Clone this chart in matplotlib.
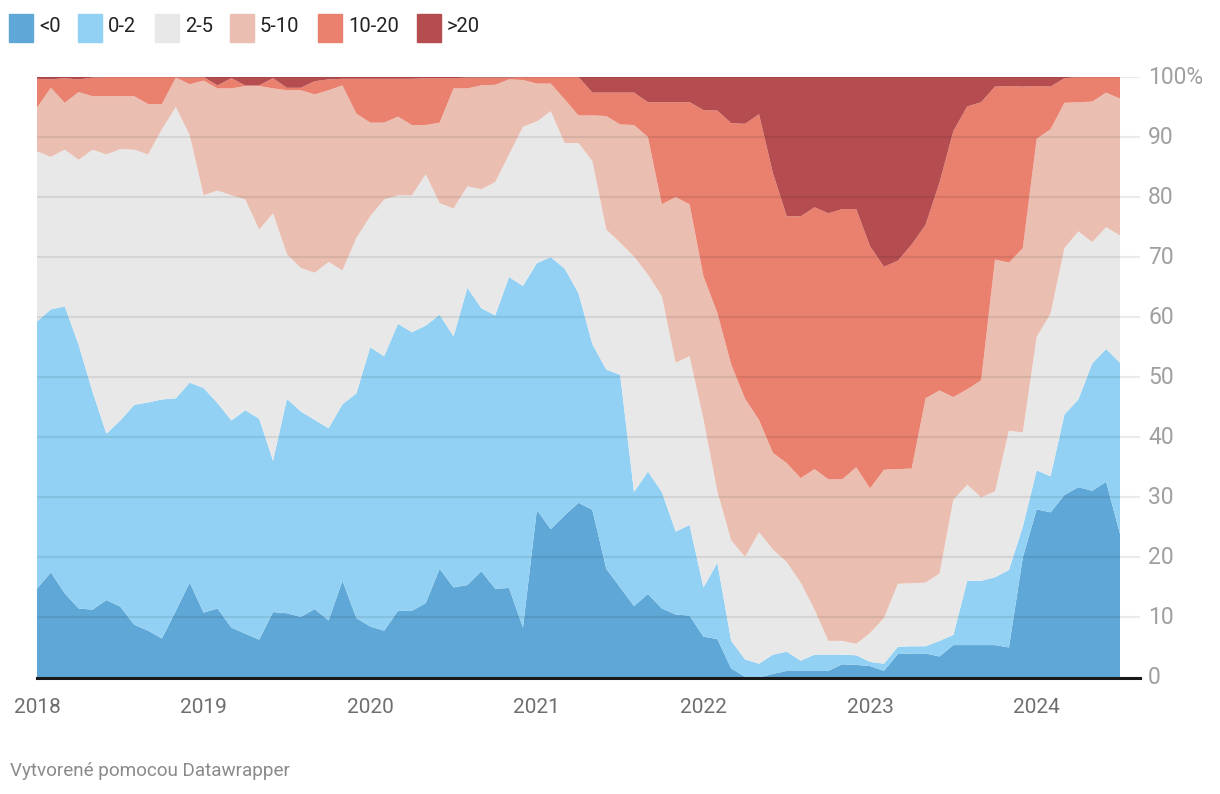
import matplotlib
matplotlib.use("Agg")
import matplotlib.pyplot as plt
from matplotlib.patches import Rectangle
import numpy as np

plt.rcParams['font.family'] = ['Roboto', 'DejaVu Sans']

labels = ["<0", "0-2", "2-5", "5-10", "10-20", ">20"]
colors = ["#5fa7d6", "#92d1f3", "#e8e8e8", "#eabfb2", "#ea806e", "#b54d50"]

# monthly shares (%), Jan 2018 .. Jul 2024
s_neg = [14.8, 17.5, 14.0, 11.5, 11.3, 12.9, 11.8, 8.8, 7.8, 6.5, 11.1, 15.8,
         10.8, 11.5, 8.3, 7.3, 6.3, 10.9, 10.7, 10.1, 11.4, 9.5, 16.1, 9.9,
         8.5, 7.8, 11.1, 11.1, 12.4, 18.1, 15.0, 15.4, 17.7, 14.8, 14.9, 8.3,
         27.9, 24.7, 27.0, 29.1, 27.9, 18.1, 15.0, 11.9, 13.9, 11.5, 10.5, 10.3,
         6.8, 6.4, 1.5, 0.1, 0.0, 0.6, 1.1, 1.1, 1.1, 1.1, 2.2, 2.1,
         1.9, 1.1, 3.9, 4.0, 4.0, 3.5, 5.4, 5.4, 5.4, 5.4, 5.0, 20.0,
         28.0, 27.5, 30.4, 31.7, 31.1, 32.6, 23.9]
s_0_2 = [44.5, 43.8, 47.8, 43.9, 36.3, 27.7, 31.0, 36.6, 38.0, 39.8, 35.4, 33.3,
         37.4, 34.2, 34.5, 37.2, 36.8, 25.2, 35.7, 34.2, 31.5, 32.0, 29.4, 37.4,
         46.5, 45.7, 47.8, 46.4, 46.2, 42.3, 41.8, 49.5, 43.8, 45.5, 51.8, 56.9,
         41.1, 45.3, 41.1, 34.9, 27.6, 33.2, 35.4, 19.0, 20.4, 19.4, 13.8, 15.1,
         8.2, 12.7, 4.6, 2.9, 2.3, 3.2, 3.2, 1.7, 2.7, 2.7, 1.6, 1.6,
         0.7, 1.2, 1.2, 1.2, 1.2, 2.6, 1.7, 10.7, 10.7, 11.3, 12.9, 5.1,
         6.5, 6.0, 13.4, 14.6, 21.2, 22.1, 28.5]
s_2_5 = [28.3, 25.4, 26.1, 30.8, 40.3, 46.5, 45.2, 42.5, 41.3, 45.0, 48.5, 41.2,
         32.1, 35.4, 37.5, 35.1, 31.5, 41.2, 24.1, 23.9, 24.5, 27.7, 22.3, 25.9,
         21.8, 26.1, 21.4, 22.8, 25.2, 18.6, 21.3, 16.9, 19.8, 22.2, 20.4, 26.5,
         23.6, 24.3, 20.9, 25.0, 30.5, 23.3, 22.0, 39.2, 32.8, 32.6, 28.1, 28.1,
         28.0, 11.9, 16.7, 17.1, 21.9, 17.5, 14.9, 13.0, 7.5, 2.3, 2.3, 1.9,
         4.8, 7.6, 10.5, 10.5, 10.6, 11.2, 22.5, 16.0, 13.9, 14.3, 23.2, 15.7,
         22.2, 27.1, 27.7, 28.0, 20.2, 20.3, 21.2]
s_5_10 = [7.3, 11.5, 7.8, 11.3, 8.9, 9.7, 8.8, 8.9, 8.4, 4.2, 4.9, 8.5,
          19.1, 17.0, 17.8, 18.9, 23.9, 20.8, 27.3, 29.6, 29.7, 28.6, 30.8, 20.7,
          15.6, 12.8, 13.1, 11.7, 8.2, 13.4, 20.0, 16.3, 17.3, 16.2, 12.5, 7.8,
          6.3, 4.6, 7.3, 4.6, 7.6, 18.9, 19.7, 21.9, 22.9, 15.3, 27.6, 25.3,
          23.8, 29.7, 29.3, 26.3, 18.7, 16.1, 16.5, 17.4, 23.4, 26.9, 26.9, 29.4,
          24.1, 24.7, 19.1, 19.1, 30.7, 30.5, 17.1, 15.9, 19.5, 38.6, 28.0, 30.7,
          33.0, 30.7, 24.2, 21.5, 23.4, 22.4, 22.8]
s_10_20 = [4.8, 1.4, 4.1, 2.1, 3.1, 3.2, 3.2, 3.2, 4.5, 4.5, 0.1, 1.1,
           0.6, 0.5, 1.7, 0.1, 0.1, 1.7, 0.4, 0.4, 2.2, 1.8, 1.1, 5.8,
           7.3, 7.3, 6.3, 7.7, 7.8, 7.4, 1.7, 1.8, 1.3, 1.2, 0.3, 0.5,
           1.1, 1.1, 3.7, 6.4, 3.8, 3.9, 5.3, 5.4, 5.8, 17.0, 15.8, 17.0,
           27.7, 33.7, 40.2, 45.8, 50.9, 46.6, 41.1, 43.6, 43.6, 44.3, 45.0, 43.0,
           40.3, 33.8, 34.7, 37.3, 28.9, 34.6, 44.3, 47.1, 46.3, 28.8, 29.4, 26.9,
           8.8, 7.1, 4.1, 4.2, 4.1, 2.6, 3.6]
s_gt20 = [0.3, 0.4, 0.2, 0.4, 0.1, 0.0, 0.0, 0.0, 0.0, 0.0, 0.0, 0.1,
          0.0, 1.4, 0.2, 1.4, 1.4, 0.2, 1.8, 1.8, 0.7, 0.4, 0.3, 0.3,
          0.3, 0.3, 0.3, 0.3, 0.2, 0.2, 0.2, 0.1, 0.1, 0.1, 0.1, 0.0,
          0.0, 0.0, 0.0, 0.0, 2.6, 2.6, 2.6, 2.6, 4.2, 4.2, 4.2, 4.2,
          5.5, 5.6, 7.7, 7.8, 6.2, 16.0, 23.2, 23.2, 21.7, 22.7, 22.0, 22.0,
          28.2, 31.6, 30.6, 27.9, 24.6, 17.6, 9.0, 4.9, 4.2, 1.6, 1.5, 1.6,
          1.5, 1.6, 0.2, 0.0, 0.0, 0.0, 0.0]

years = ["2018", "2019", "2020", "2021", "2022", "2023", "2024"]
y_ticks = [0, 10, 20, 30, 40, 50, 60, 70, 80, 90, 100]

series = [s_neg, s_0_2, s_2_5, s_5_10, s_10_20, s_gt20]
n = len(s_neg)
x = np.arange(n)  # month index from Jan 2018

W, H = 1220, 794
fig = plt.figure(figsize=(W / 100, H / 100), dpi=100)
px_per_month = (1120 - 37) / (n - 1)
x_right = 1140
ax = fig.add_axes([37 / W, (H - 677.5) / H, (x_right - 37) / W, 600.5 / H])
ax.stackplot(x, *series, colors=colors, linewidth=0, antialiased=True)
ax.set_xlim(0, (x_right - 37) / px_per_month)
ax.set_ylim(0, 100)

for v in y_ticks[1:]:
    ax.axhline(v, color="#000000", alpha=0.08, linewidth=1.6, zorder=5)
ax.axhline(0, color="#1a1a1a", linewidth=2.2, zorder=6, clip_on=False)

for s in ax.spines.values():
    s.set_visible(False)
ax.set_xticks([12 * k for k in range(len(years))])
ax.set_xticklabels(years, fontsize=15, color="#6e6e6e")
ax.tick_params(axis="x", length=0, pad=15)
ax.set_yticks([])

for v in y_ticks:
    lab = "100%" if v == 100 else str(v)
    fig.text(1148 / W, (H - (677.5 - v * 6.005)) / H, lab, fontsize=16.5,
             color="#a0a0a0", ha="left", va="center")

# legend
leg_x = [9, 78, 155, 230, 318, 417]
for lx, lab, c in zip(leg_x, labels, colors):
    fig.patches.append(Rectangle((lx / W, (H - 42) / H), 24 / W, 28 / H,
                                 transform=fig.transFigure, color=c))
    fig.text((lx + 30) / W, (H - 27) / H, lab, fontsize=14.5, color="#222222",
             ha="left", va="center")

fig.text(10 / W, (H - 771) / H, "Vytvorené pomocou Datawrapper", fontsize=13.6,
         color="#8a8a8a", ha="left", va="center")

fig.savefig("out.png", dpi=100, facecolor="white")
